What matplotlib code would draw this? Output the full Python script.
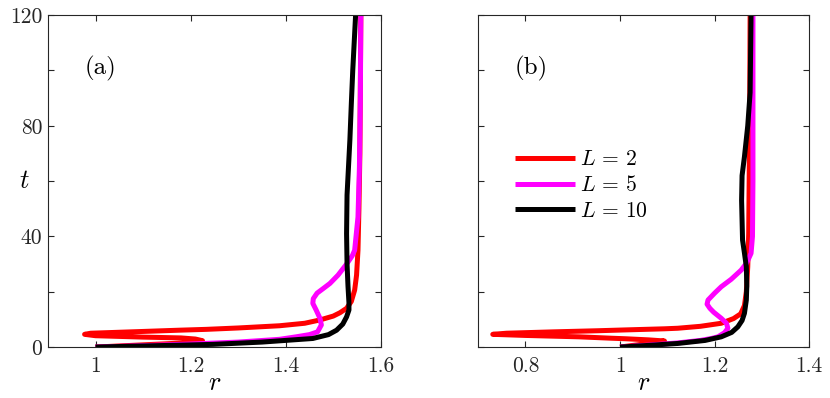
import numpy as np
import matplotlib
matplotlib.use("Agg")
import matplotlib.pyplot as plt

plt.rcParams['font.family'] = 'serif'
plt.rcParams['font.serif'] = ['cmr10', 'DejaVu Serif']
plt.rcParams['mathtext.fontset'] = 'cm'
plt.rcParams['axes.formatter.use_mathtext'] = True

# ---- data: (r, t) pairs ----
# panel (a)
a_r2 = [1.0, 1.1, 1.2, 1.225, 1.21, 1.18, 1.1, 1.0, 0.977, 0.99, 1.093, 1.177, 1.233, 1.30, 1.387,
        1.44, 1.472, 1.50, 1.514, 1.528, 1.538, 1.545, 1.549, 1.552, 1.554, 1.556, 1.557, 1.558]
a_t2 = [0.0, 0.8, 1.6, 2.3, 2.9, 3.3, 3.6, 4.1, 4.6, 5.0, 5.6, 6.1, 6.4, 6.9, 7.7,
        8.6, 9.8, 11.2, 12.4, 14.0, 16.5, 20.6, 26.0, 35.0, 50.0, 70.0, 95.0, 120.0]
a_r5 = [1.0, 1.1, 1.2, 1.3, 1.387, 1.422, 1.45, 1.467, 1.475, 1.472, 1.464, 1.457, 1.458,
        1.466, 1.48, 1.493, 1.51, 1.528, 1.540, 1.545, 1.552, 1.555, 1.557, 1.558]
a_t5 = [0.0, 0.5, 1.1, 1.8, 2.8, 3.7, 4.5, 5.5, 8.0, 10.4, 13.4, 15.8, 17.5,
        19.5, 21.3, 23.0, 26.0, 30.0, 33.0, 35.0, 47.0, 65.0, 90.0, 120.0]
a_r10 = [1.0, 1.05, 1.18, 1.247, 1.35, 1.457, 1.49, 1.507, 1.52, 1.528, 1.533, 1.533, 1.531,
         1.529, 1.528, 1.529, 1.532, 1.535, 1.538, 1.541, 1.544, 1.547]
a_t10 = [0.0, 0.2, 0.7, 0.97, 1.8, 3.1, 4.5, 6.1, 8.3, 10.9, 13.4, 16.0, 22.0,
         30.0, 41.0, 55.0, 65.0, 75.0, 88.0, 100.0, 110.0, 120.0]

# panel (b)
b_r2 = [1.0, 1.05, 1.094, 1.06, 1.012, 0.981, 0.913, 0.80, 0.731, 0.76, 0.86, 0.953, 1.012, 1.094,
        1.122, 1.17, 1.214, 1.24, 1.255, 1.263, 1.267, 1.270, 1.272, 1.274, 1.275]
b_t2 = [0.0, 1.1, 2.2, 2.6, 3.0, 3.2, 3.7, 4.2, 4.6, 5.0, 5.5, 5.9, 6.2, 6.6,
        6.8, 7.5, 8.6, 10.3, 12.0, 15.0, 20.0, 29.0, 41.0, 80.0, 120.0]
b_r5 = [1.0, 1.06, 1.122, 1.17, 1.193, 1.207, 1.221, 1.228, 1.225, 1.214, 1.198, 1.19, 1.184,
        1.186, 1.20, 1.214, 1.235, 1.256, 1.268, 1.277, 1.280, 1.281, 1.281, 1.281]
b_t5 = [0.0, 0.7, 1.5, 2.4, 3.1, 3.7, 5.2, 6.8, 8.6, 10.4, 12.6, 14.0, 15.5,
        17.0, 19.5, 21.8, 24.5, 27.8, 30.5, 33.9, 40.0, 60.0, 90.0, 120.0]
b_r10 = [1.0, 1.06, 1.122, 1.18, 1.214, 1.236, 1.249, 1.258, 1.263, 1.267, 1.268, 1.267,
         1.263, 1.259, 1.257, 1.258, 1.263, 1.270, 1.275, 1.277]
b_t10 = [0.0, 0.6, 1.3, 2.4, 3.7, 5.3, 7.3, 9.6, 12.2, 17.0, 22.0, 29.0,
         34.0, 38.7, 53.0, 62.0, 68.8, 80.0, 92.0, 120.0]

labels = [r'$L\,=\,2$', r'$L\,=\,5$', r'$L\,=\,10$']
colors = ['#ff0000', '#ff00ff', '#000000']

fig = plt.figure(figsize=(8.3, 3.98), dpi=100)
ax1 = fig.add_axes([0.0578, 0.128, 0.401, 0.834])
ax2 = fig.add_axes([0.576, 0.128, 0.399, 0.834])

panels = [
    (ax1, [(a_r2, a_t2), (a_r5, a_t5), (a_r10, a_t10)], (0.9, 1.6), [1.0, 1.2, 1.4, 1.6], ['1', '1.2', '1.4', '1.6'], '(a)'),
    (ax2, [(b_r2, b_t2), (b_r5, b_t5), (b_r10, b_t10)], (0.7, 1.4), [0.8, 1.0, 1.2, 1.4], ['0.8', '1', '1.2', '1.4'], '(b)'),
]

for ax, curves, xl, xt, xtl, tag in panels:
    for (r, t), c, lab in zip(curves, colors, labels):
        ax.plot(r, t, color=c, lw=3.6, label=lab, solid_capstyle='butt')
    ax.set_xlim(*xl)
    ax.set_ylim(0, 120)
    ax.set_xticks(xt)
    ax.set_xticklabels(xtl)
    ax.set_yticks([0, 20, 40, 60, 80, 100, 120])
    ax.tick_params(direction='in', length=4, width=0.8, top=True, right=True,
                   labelsize=15.5, color='#262626', labelcolor='#262626')
    ax.tick_params(axis='x', pad=7)
    ax.tick_params(axis='y', pad=4)
    for s in ax.spines.values():
        s.set_color('#262626')
        s.set_linewidth(0.8)
    ax.set_xlabel('$r$', fontsize=19, va='center')
    ax.xaxis.set_label_coords(0.5, -0.11)
    ax.text(0.11, 0.84, tag, transform=ax.transAxes, fontsize=18, va='center')

ax1.set_yticklabels(['0', '', '40', '', '80', '', '120'])
ax1.set_ylabel('$t$', fontsize=19, rotation=0, va='center', ha='center')
ax1.yaxis.set_label_coords(-0.07, 0.5)
ax2.set_yticklabels([])

ax2.legend(loc='upper left', bbox_to_anchor=(0.11, 0.595), frameon=False, fontsize=15.5,
           handlelength=2.8, handletextpad=0.25, labelspacing=0.28, borderpad=0,
           borderaxespad=0)

fig.savefig('out.png', dpi=100)
